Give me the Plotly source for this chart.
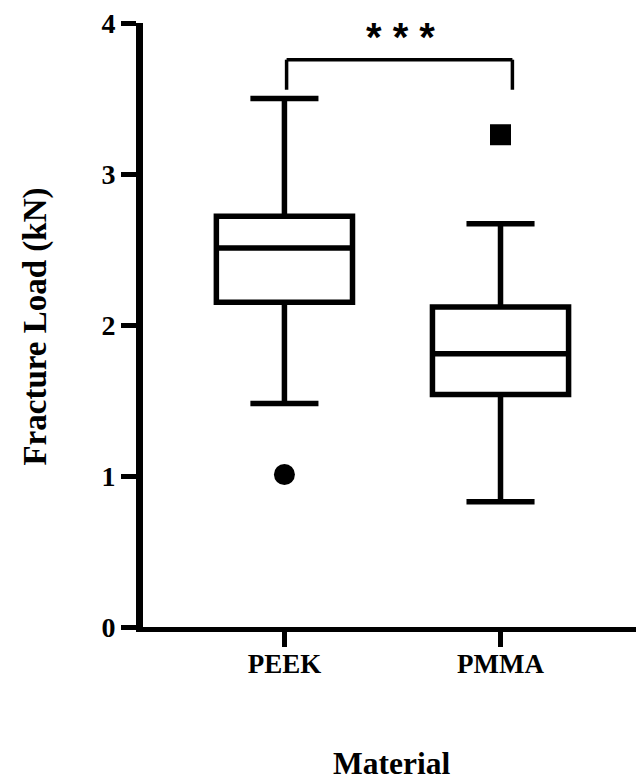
import plotly.graph_objects as go

# ---- data ----
categories = ["PEEK", "PMMA"]
lower_fence = [1.48, 0.83]
q1 = [2.15, 1.54]
median = [2.51, 1.81]
q3 = [2.72, 2.12]
upper_fence = [3.50, 2.67]
outliers = [1.01, 3.26]
outlier_symbols = ["circle", "square"]
y_ticks = [0, 1, 2, 3, 4]
significance = "* * *"

FONT = "Liberation Serif"

fig = go.Figure()
for i, cat in enumerate(categories):
    fig.add_trace(go.Box(
        x=[cat], q1=[q1[i]], median=[median[i]], q3=[q3[i]],
        lowerfence=[lower_fence[i]], upperfence=[upper_fence[i]],
        boxpoints=False, width=0.63, whiskerwidth=0.5,
        fillcolor="white", line=dict(color="black", width=5.5),
        showlegend=False, name=cat,
    ))
    fig.add_trace(go.Scatter(
        x=[cat], y=[outliers[i]], mode="markers",
        marker=dict(symbol=outlier_symbols[i], size=21, color="black"),
        showlegend=False, cliponaxis=False,
    ))

# significance bracket between the two groups
br_left, br_right = 0.01, 1.055
br_top, br_leg = 3.757, 3.558
fig.add_shape(type="line", x0=br_left, x1=br_left, y0=br_leg, y1=br_top,
              line=dict(color="black", width=3.5))
fig.add_shape(type="line", x0=br_left, x1=br_right, y0=br_top, y1=br_top,
              line=dict(color="black", width=3.5))
fig.add_shape(type="line", x0=br_right, x1=br_right, y0=br_leg, y1=br_top,
              line=dict(color="black", width=3.5))
fig.add_annotation(x=0.535, y=3.91, text=f"<b>{significance}</b>", showarrow=False,
                   font=dict(family="Liberation Sans", size=40, color="black"),
                   xanchor="center", yanchor="middle")

# axis titles
fig.add_annotation(x=0.504, y=-0.2265, xref="paper", yref="paper", text="<b>Material</b>",
                   showarrow=False, font=dict(family=FONT, size=31.5, color="black"),
                   xanchor="center", yanchor="middle")
fig.add_annotation(x=-0.2184, y=0.498, xref="paper", yref="paper",
                   text="<b>Fracture Load (kN)</b>", textangle=-90,
                   showarrow=False, font=dict(family=FONT, size=33, color="black"),
                   xanchor="center", yanchor="middle")

fig.update_layout(
    width=636, height=780,
    margin=dict(l=143, r=0, t=23, b=153),
    plot_bgcolor="white", paper_bgcolor="white",
    font=dict(family=FONT, color="black"),
)
fig.update_xaxes(
    type="category", range=[-0.6545, 1.627],
    showline=True, linecolor="black", linewidth=5,
    ticks="outside", ticklen=15, tickwidth=5, tickcolor="black",
    showgrid=False, zeroline=False,
    tickfont=dict(family=FONT, size=27, color="black"),
    ticklabelstandoff=-6,
)
fig.update_yaxes(
    range=[0, 4], tickvals=y_ticks,
    showline=True, linecolor="black", linewidth=7,
    ticks="outside", ticklen=15, tickwidth=5, tickcolor="black",
    showgrid=False, zeroline=False,
    tickfont=dict(family=FONT, size=28, color="black"),
    ticklabelstandoff=0,
)
fig.update_xaxes(ticktext=[f"<b>{c}</b>" for c in categories], tickvals=categories)
fig.update_yaxes(ticktext=[f"<b>{t}</b>" for t in y_ticks])

fig.write_html("out.html", config={"displayModeBar": False},
               post_script="document.body.style.margin='0';document.body.style.overflow='hidden';")
